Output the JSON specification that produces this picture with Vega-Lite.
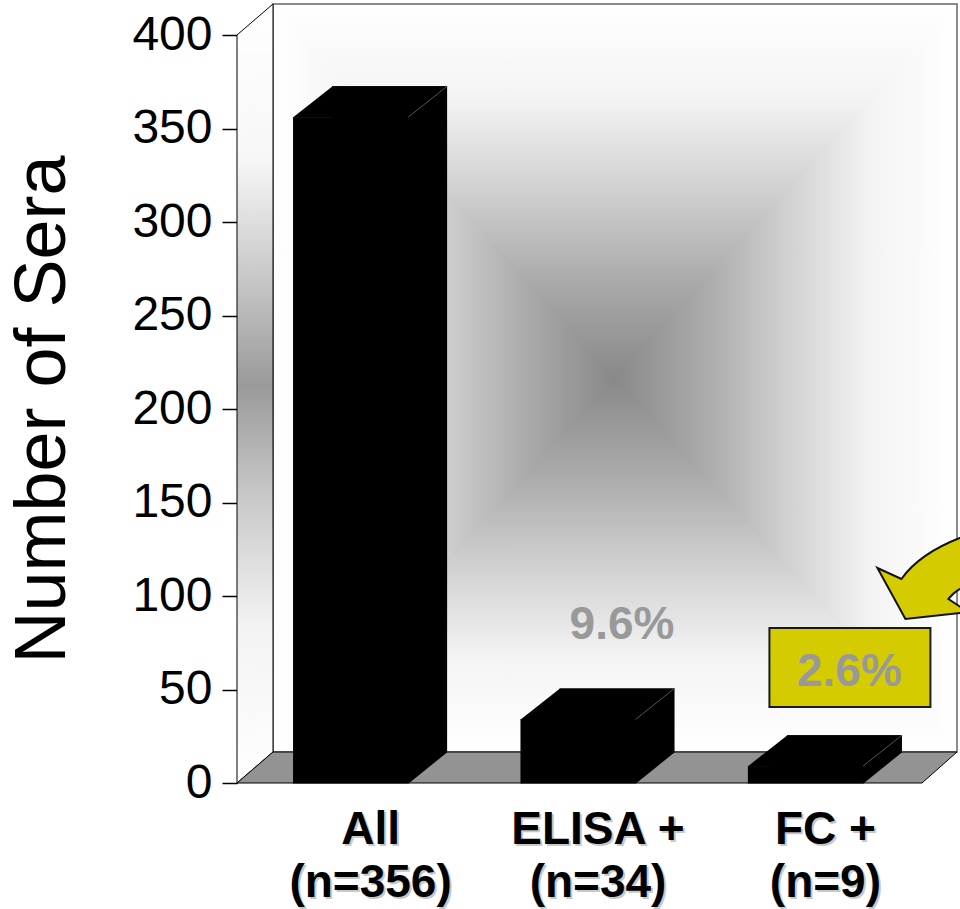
{
  "$schema": "https://vega.github.io/schema/vega-lite/v6.json",
  "width": 682,
  "height": 748,
  "autosize": {"type": "none"},
  "padding": {"left": 237, "top": 35, "right": 41, "bottom": 126},
  "background": "white",
  "config": {
    "view": {"stroke": null},
    "axisY": {"titleFont": "Liberation Sans", "titleFontSize": 72, "titleFontWeight": "normal", "titleColor": "black", "titlePadding": 52,
      "labelFont": "Liberation Sans", "labelFontSize": 48, "labelColor": "black", "labelPadding": 10, "tickSize": 15, "tickColor": "black", "tickWidth": 1.5, "domainColor": "black", "domainWidth": 1, "grid": false, "labelOverlap": false, "labelFlush": false}
  },
  "datasets": {
    "bars": [
      {"group": "All", "n": 356, "label": ["All", "(n=356)"], "pct": ""},
      {"group": "ELISA +", "n": 34, "label": ["ELISA +", "(n=34)"], "pct": "9.6%"},
      {"group": "FC +", "n": 9, "label": ["FC +", "(n=9)"], "pct": "2.6%"}
    ]
  },
  "layer": [
    {
      "data": {"values": [{}]},
      "mark": {"type": "point", "shape": "M-0.61,-0.81 L0.758,-0.81 L0.758,0.686 L-0.61,0.686 Z", "size": 1000000, "filled": true, "opacity": 1, "strokeWidth": 0,
        "fill": {"gradient": "radial", "x1": 0.5, "y1": 0.5, "x2": 0.5, "y2": 0.5, "r1": 0, "r2": 0.6, "stops": [{"offset": 0, "color": "#888888"}, {"offset": 1, "color": "#ffffff"}]}},
      "encoding": {}
    },
    {
      "data": {"values": [{}]},
      "mark": {"type": "point", "shape": "M-0.61,-0.81 L0.758,-0.81 L0.074,-0.062 Z", "size": 1000000, "filled": true, "opacity": 1, "strokeWidth": 0,
        "fill": {"gradient": "linear", "x1": 0, "y1": 0, "x2": 0, "y2": 1, "stops": [{"offset": 0, "color": "#ffffff"}, {"offset": 0.25, "color": "#f4f4f4"}, {"offset": 0.5, "color": "#d0d0d0"}, {"offset": 0.75, "color": "#a9a9a9"}, {"offset": 1, "color": "#898989"}]}},
      "encoding": {}
    },
    {
      "data": {"values": [{}]},
      "mark": {"type": "point", "shape": "M-0.61,0.686 L0.758,0.686 L0.074,-0.062 Z", "size": 1000000, "filled": true, "opacity": 1, "strokeWidth": 0,
        "fill": {"gradient": "linear", "x1": 0, "y1": 1, "x2": 0, "y2": 0, "stops": [{"offset": 0, "color": "#ffffff"}, {"offset": 0.25, "color": "#f4f4f4"}, {"offset": 0.5, "color": "#d0d0d0"}, {"offset": 0.75, "color": "#a9a9a9"}, {"offset": 1, "color": "#898989"}]}},
      "encoding": {}
    },
    {
      "data": {"values": [{}]},
      "mark": {"type": "point", "shape": "M-0.61,-0.81 L-0.61,0.686 L0.074,-0.062 Z", "size": 1000000, "filled": true, "opacity": 1, "strokeWidth": 0,
        "fill": {"gradient": "linear", "x1": 0, "y1": 0, "x2": 1, "y2": 0, "stops": [{"offset": 0, "color": "#ffffff"}, {"offset": 0.25, "color": "#f4f4f4"}, {"offset": 0.5, "color": "#d0d0d0"}, {"offset": 0.75, "color": "#a9a9a9"}, {"offset": 1, "color": "#898989"}]}},
      "encoding": {}
    },
    {
      "data": {"values": [{}]},
      "mark": {"type": "point", "shape": "M0.758,-0.81 L0.758,0.686 L0.074,-0.062 Z", "size": 1000000, "filled": true, "opacity": 1, "strokeWidth": 0,
        "fill": {"gradient": "linear", "x1": 1, "y1": 0, "x2": 0, "y2": 0, "stops": [{"offset": 0, "color": "#ffffff"}, {"offset": 0.25, "color": "#f4f4f4"}, {"offset": 0.5, "color": "#d0d0d0"}, {"offset": 0.75, "color": "#a9a9a9"}, {"offset": 1, "color": "#898989"}]}},
      "encoding": {}
    },
    {
      "data": {"values": [{}]},
      "mark": {"type": "point", "shape": "M-0.61,-0.81 L0.758,-0.81 L0.758,0.686 L-0.61,0.686 Z", "size": 1000000, "filled": false, "opacity": 1, "color": "#666666", "strokeWidth": 1.5},
      "encoding": {}
    },
    {
      "data": {"values": [{}]},
      "mark": {"type": "point", "shape": "M-0.682,-0.748 L-0.61,-0.81 L-0.61,0.686 L-0.682,0.748 Z", "size": 1000000, "filled": true, "opacity": 1, "stroke": "black", "strokeWidth": 1,
        "fill": {"gradient": "linear", "x1": 0, "y1": 0, "x2": 0, "y2": 1, "stops": [{"offset": 0, "color": "#ffffff"}, {"offset": 0.2, "color": "#f7f7f7"}, {"offset": 0.35, "color": "#c8c8c8"}, {"offset": 0.49, "color": "#9a9a9a"}, {"offset": 0.63, "color": "#c8c8c8"}, {"offset": 0.8, "color": "#f3f3f3"}, {"offset": 1, "color": "#ffffff"}]}},
      "encoding": {}
    },
    {
      "data": {"values": [{}]},
      "mark": {"type": "point", "shape": "M-0.682,0.748 L-0.61,0.686 L0.758,0.686 L0.688,0.748 Z", "size": 1000000, "filled": true, "opacity": 1, "fill": "#939393", "stroke": "black", "strokeWidth": 1},
      "encoding": {}
    },
    {
      "data": {"name": "bars"},
      "mark": {"type": "bar", "color": "black", "xOffset": 39, "x2Offset": 39, "yOffset": -31, "y2Offset": -31},
      "encoding": {
        "x": {"field": "group", "type": "nominal", "sort": null, "scale": {"type": "band", "paddingInner": 0.494, "paddingOuter": 0.2464}, "axis": null},
        "y": {"field": "n", "type": "quantitative", "scale": {"domain": [0, 400], "nice": false},
          "axis": {"title": "Number of Sera", "values": [0, 50, 100, 150, 200, 250, 300, 350, 400]}}
      }
    },
    {
      "data": {"name": "bars"},
      "mark": {"type": "point", "shape": "M-0.58,0.005 L0.58,0.005 L0.97,-0.31 L-0.18,-0.31 Z", "size": 40000, "filled": true, "color": "black", "opacity": 1, "strokeWidth": 0},
      "encoding": {
        "x": {"field": "group", "type": "nominal", "sort": null, "scale": {"type": "band", "paddingInner": 0.494, "paddingOuter": 0.2464}, "axis": null},
        "y": {"field": "n", "type": "quantitative"}
      }
    },
    {
      "data": {"name": "bars"},
      "mark": {"type": "point", "shape": "M-0.58,0.005 L0.58,0.005 L0.97,-0.31 L-0.18,-0.31 Z", "size": 40000, "filled": true, "color": "black", "opacity": 1, "strokeWidth": 0},
      "encoding": {
        "x": {"field": "group", "type": "nominal", "sort": null, "scale": {"type": "band", "paddingInner": 0.494, "paddingOuter": 0.2464}, "axis": null},
        "y": {"datum": 0, "type": "quantitative"}
      }
    },
    {
      "data": {"name": "bars"},
      "mark": {"type": "bar", "color": "black"},
      "encoding": {
        "x": {"field": "group", "type": "nominal", "sort": null, "scale": {"type": "band", "paddingInner": 0.494, "paddingOuter": 0.2464}, "axis": null},
        "y": {"field": "n", "type": "quantitative"}
      }
    },
    {
      "data": {"name": "bars"},
      "mark": {"type": "point", "shape": "M0.575,0 L0.965,-0.31", "size": 40000, "filled": false, "color": "#555555", "opacity": 1, "strokeWidth": 1},
      "encoding": {
        "x": {"field": "group", "type": "nominal", "sort": null, "scale": {"type": "band", "paddingInner": 0.494, "paddingOuter": 0.2464}, "axis": null},
        "y": {"field": "n", "type": "quantitative"}
      }
    },
    {
      "data": {"name": "bars"},
      "transform": [{"filter": "datum.group === 'FC +'"}],
      "mark": {"type": "point", "shape": "M-0.18,-0.691 L0.625,-0.691 L0.625,-0.296 L-0.18,-0.296 Z", "size": 160000, "filled": true, "opacity": 1, "fill": "#d4cc00", "stroke": "#1a1a1a", "strokeWidth": 2},
      "encoding": {
        "x": {"field": "group", "type": "nominal", "sort": null, "scale": {"type": "band", "paddingInner": 0.494, "paddingOuter": 0.2464}, "axis": null},
        "y": {"field": "n", "type": "quantitative"}
      }
    },
    {
      "data": {"name": "bars"},
      "transform": [{"filter": "datum.group === 'FC +'"}],
      "mark": {"type": "point", "shape": "M0.36,-0.991 L0.48,-0.936 Q0.6,-1.105 0.925,-1.19 L0.925,-0.93 Q0.775,-0.915 0.715,-0.836 L0.815,-0.77 L0.5,-0.736 Z", "size": 160000, "filled": true, "opacity": 1, "fill": "#d4cc00", "stroke": "#111111", "strokeWidth": 2},
      "encoding": {
        "x": {"field": "group", "type": "nominal", "sort": null, "scale": {"type": "band", "paddingInner": 0.494, "paddingOuter": 0.2464}, "axis": null},
        "y": {"field": "n", "type": "quantitative"}
      }
    },
    {
      "data": {"name": "bars"},
      "mark": {"type": "text", "font": "Liberation Sans", "fontWeight": "bold", "fontSize": 46, "color": "#999999", "dx": 44, "dy": -80, "baseline": "alphabetic", "align": "center"},
      "encoding": {
        "x": {"field": "group", "type": "nominal", "sort": null, "scale": {"type": "band", "paddingInner": 0.494, "paddingOuter": 0.2464}, "axis": null},
        "y": {"field": "n", "type": "quantitative"},
        "text": {"field": "pct"}
      }
    },
    {
      "data": {"name": "bars"},
      "mark": {"type": "text", "font": "Liberation Sans", "fontWeight": "bold", "fontSize": 46, "color": "#c8c8c8", "dx": 22, "dy": 63, "baseline": "alphabetic", "align": "center", "lineHeight": 53},
      "encoding": {
        "x": {"field": "group", "type": "nominal", "sort": null, "scale": {"type": "band", "paddingInner": 0.494, "paddingOuter": 0.2464}, "axis": null},
        "y": {"datum": 0, "type": "quantitative"},
        "text": {"field": "label"}
      }
    },
    {
      "data": {"name": "bars"},
      "mark": {"type": "text", "font": "Liberation Sans", "fontWeight": "bold", "fontSize": 46, "color": "black", "dx": 20, "dy": 61, "baseline": "alphabetic", "align": "center", "lineHeight": 53},
      "encoding": {
        "x": {"field": "group", "type": "nominal", "sort": null, "scale": {"type": "band", "paddingInner": 0.494, "paddingOuter": 0.2464}, "axis": null},
        "y": {"datum": 0, "type": "quantitative"},
        "text": {"field": "label"}
      }
    }
  ]
}
